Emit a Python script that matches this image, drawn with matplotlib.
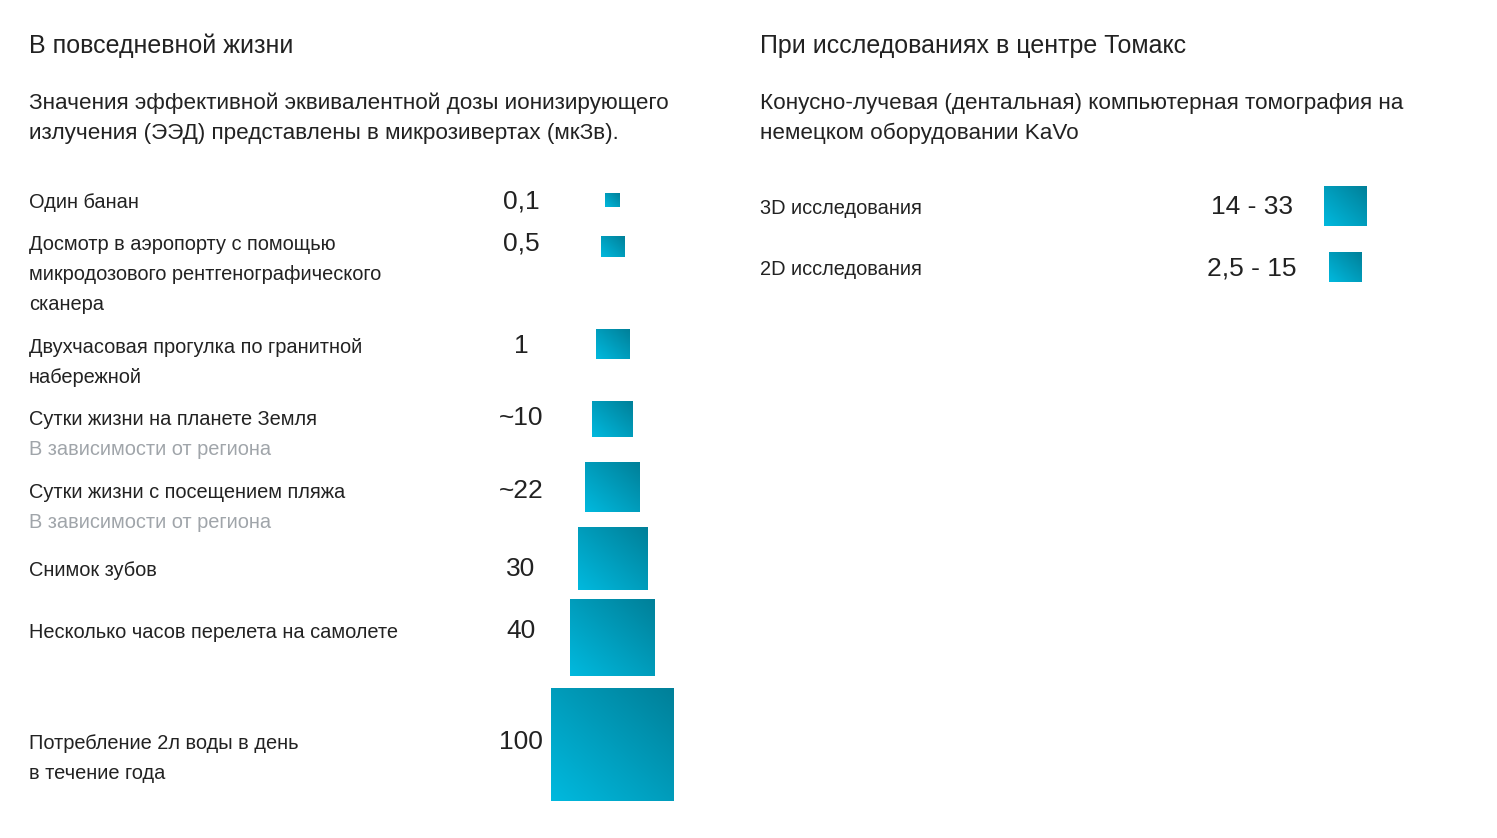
import numpy as np
import matplotlib.pyplot as plt
from matplotlib.colors import LinearSegmentedColormap

plt.rcParams['font.family'] = ['Liberation Sans', 'DejaVu Sans']

# данные: левая колонка
labels_left = [
    ["Один банан"],
    ["Досмотр в аэропорту с помощью", "микродозового рентгенографического", "сканера"],
    ["Двухчасовая прогулка по гранитной", "набережной"],
    ["Сутки жизни на планете Земля"],
    ["Сутки жизни с посещением пляжа"],
    ["Снимок зубов"],
    ["Несколько часов перелета на самолете"],
    ["Потребление 2л воды в день", "в течение года"],
]
notes_left = ["", "", "", "В зависимости от региона", "В зависимости от региона", "", "", ""]
values_left = ["0,1", "0,5", "1", "~10", "~22", "30", "40", "100"]

# данные: правая колонка
labels_right = ["3D исследования", "2D исследования"]
values_right = ["14 - 33", "2,5 - 15"]

# оформление / раскладка (пиксели)
row_y_left = [200, 242, 345, 417, 490, 568, 630, 741]
val_y_left = [199, 241, 344, 416, 489, 567, 629, 740]
box_cy_left = [200, 247, 344, 419, 487, 558.5, 637.5, 745]
box_w_left = [15, 24, 34, 41, 55, 70, 85, 123]
box_h_left = [14, 21, 30, 36, 50, 63, 77, 112]
row_y_right = [206, 267]
box_cy_right = [206.5, 267]
box_w_right = [43, 33]
box_h_right = [39, 30]

TXT = '#222222'
GRAY = '#a0a5aa'
DY = 2  # сдвиг текста вниз
cmap = LinearSegmentedColormap.from_list('g', ['#00b9de', '#008099'])

fig = plt.figure(figsize=(14.97, 8.38), dpi=100)
ax = fig.add_axes([0, 0, 1, 1])
ax.set_xlim(0, 1497)
ax.set_ylim(838, 0)
ax.axis('off')

gx, gy = np.meshgrid(np.linspace(0, 1, 64), np.linspace(0, 1, 64))


def square(cx, cy, w, h):
    # снизу-слева светлее, сверху-справа темнее
    g = gx * 0.5 + (1 - gy) * 0.5
    ax.imshow(g, cmap=cmap, extent=(cx - w / 2, cx + w / 2, cy + h / 2, cy - h / 2),
              origin='upper', aspect='auto', interpolation='bilinear', vmin=0, vmax=1)


def txt(x, y, s, size, color=TXT, ha='left'):
    ax.text(x, y + DY, s, fontsize=size, color=color, va='center', ha=ha)


# левая колонка
txt(29, 44, "В повседневной жизни", 18)
txt(29, 101, "Значения эффективной эквивалентной дозы ионизирующего", 16.2)
txt(29, 131, "излучения (ЭЭД) представлены в микрозивертах (мкЗв).", 16.2)

for i, lines in enumerate(labels_left):
    for j, ln in enumerate(lines):
        txt(29, row_y_left[i] + 30 * j, ln, 14.4)
    if notes_left[i]:
        txt(29, row_y_left[i] + 30 * len(lines), notes_left[i], 14.4, color=GRAY)
    txt(521, val_y_left[i], values_left[i], 19, ha='center')
    square(612.5, box_cy_left[i], box_w_left[i], box_h_left[i])

# правая колонка
txt(760, 44, "При исследованиях в центре Томакс", 18)
txt(760, 101, "Конусно-лучевая (дентальная) компьютерная томография на", 16.2)
txt(760, 131, "немецком оборудовании KaVo", 16.2)

for i, lab in enumerate(labels_right):
    txt(760, row_y_right[i], lab, 14.4)
    txt(1252, row_y_right[i] - 1, values_right[i], 19, ha='center')
    square(1345.5, box_cy_right[i], box_w_right[i], box_h_right[i])

fig.savefig('out.png', dpi=100, facecolor='white')
